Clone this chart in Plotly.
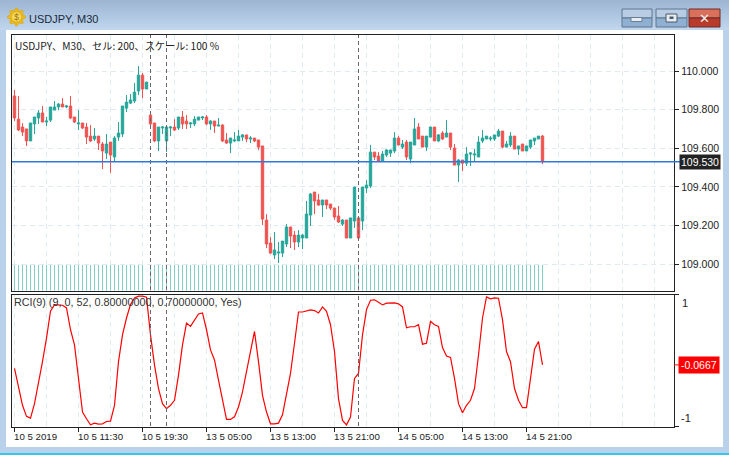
import math
import plotly.graph_objects as go

opens = [109.871,109.751,109.710,109.700,109.638,109.726,109.757,109.783,109.736,109.746,109.798,109.814,109.829,109.814,109.819,109.762,109.726,109.731,109.710,109.663,
109.648,109.663,109.622,109.575,109.632,109.555,109.658,109.674,109.808,109.834,109.845,109.897,109.979,109.907,109.772,109.731,109.638,109.705,109.638,109.705,
109.710,109.705,109.762,109.741,109.726,109.726,109.746,109.757,109.762,109.726,109.741,109.715,109.720,109.643,109.627,109.638,109.638,109.658,109.669,109.648,
109.653,109.643,109.612,109.228,109.109,109.047,109.057,109.057,109.104,109.192,109.150,109.114,109.135,109.135,109.254,109.373,109.332,109.306,109.332,109.311,
109.290,109.249,109.207,109.228,109.135,109.223,109.239,109.223,109.394,109.404,109.580,109.560,109.534,109.565,109.575,109.586,109.653,109.606,109.632,109.544,
109.617,109.710,109.663,109.606,109.658,109.710,109.638,109.679,109.658,109.679,109.601,109.513,109.539,109.523,109.570,109.565,109.555,109.638,109.648,109.648,
109.648,109.663,109.689,109.606,109.617,109.663,109.596,109.622,109.586,109.606,109.638,109.648,109.663]
highs = [109.902,109.871,109.731,109.700,109.731,109.762,109.798,109.819,109.762,109.814,109.845,109.834,109.860,109.824,109.871,109.762,109.798,109.731,109.731,109.720,
109.705,109.663,109.632,109.674,109.632,109.663,109.736,109.819,109.876,109.881,109.938,110.026,109.990,109.943,109.783,109.731,109.710,109.715,109.710,109.715,
109.751,109.762,109.793,109.772,109.736,109.767,109.762,109.767,109.772,109.746,109.741,109.757,109.726,109.679,109.653,109.684,109.695,109.674,109.669,109.663,
109.653,109.643,109.612,109.259,109.140,109.166,109.114,109.119,109.207,109.192,109.171,109.176,109.156,109.327,109.368,109.373,109.363,109.332,109.332,109.311,
109.290,109.301,109.233,109.228,109.239,109.399,109.239,109.399,109.435,109.617,109.580,109.580,109.586,109.596,109.591,109.684,109.663,109.643,109.643,109.632,
109.757,109.731,109.663,109.663,109.710,109.710,109.674,109.689,109.746,109.679,109.622,109.544,109.539,109.606,109.580,109.596,109.663,109.695,109.663,109.663,
109.669,109.700,109.689,109.638,109.684,109.663,109.612,109.622,109.612,109.643,109.653,109.663,109.669]
lows = [109.741,109.689,109.663,109.612,109.638,109.674,109.726,109.736,109.715,109.736,109.798,109.798,109.814,109.808,109.751,109.731,109.695,109.700,109.622,109.632,
109.638,109.591,109.492,109.544,109.472,109.534,109.638,109.658,109.788,109.829,109.834,109.876,109.860,109.907,109.705,109.632,109.586,109.674,109.580,109.663,
109.689,109.695,109.700,109.700,109.705,109.715,109.746,109.746,109.720,109.695,109.679,109.715,109.632,109.622,109.575,109.632,109.638,109.638,109.632,109.627,
109.632,109.591,109.202,109.083,109.052,109.026,109.005,109.036,109.088,109.083,109.073,109.088,109.078,109.135,109.197,109.259,109.301,109.244,109.285,109.280,
109.228,109.213,109.197,109.135,109.135,109.187,109.135,109.176,109.368,109.394,109.539,109.534,109.534,109.555,109.555,109.575,109.617,109.596,109.539,109.523,
109.617,109.648,109.606,109.586,109.658,109.638,109.632,109.643,109.658,109.591,109.513,109.425,109.482,109.508,109.508,109.534,109.555,109.627,109.648,109.638,
109.638,109.658,109.601,109.606,109.606,109.596,109.565,109.586,109.586,109.596,109.617,109.648,109.518]
closes = [109.757,109.695,109.684,109.638,109.731,109.762,109.783,109.736,109.741,109.814,109.814,109.829,109.814,109.819,109.757,109.736,109.731,109.705,109.658,109.638,
109.663,109.627,109.586,109.622,109.565,109.653,109.679,109.819,109.839,109.850,109.891,109.979,109.907,109.943,109.726,109.638,109.710,109.710,109.710,109.710,
109.695,109.762,109.726,109.726,109.731,109.751,109.762,109.762,109.726,109.741,109.715,109.720,109.638,109.627,109.653,109.643,109.663,109.669,109.648,109.653,
109.638,109.606,109.233,109.104,109.057,109.073,109.062,109.119,109.192,109.145,109.114,109.150,109.150,109.259,109.363,109.327,109.306,109.332,109.306,109.290,
109.244,109.218,109.228,109.135,109.239,109.399,109.135,109.399,109.409,109.580,109.555,109.534,109.570,109.591,109.591,109.653,109.617,109.622,109.555,109.632,
109.700,109.648,109.606,109.663,109.710,109.638,109.669,109.648,109.679,109.606,109.513,109.539,109.523,109.570,109.575,109.570,109.632,109.653,109.663,109.653,
109.669,109.689,109.606,109.622,109.663,109.596,109.612,109.586,109.612,109.643,109.653,109.663,109.530]
volumes = [1,1,1,1,1,1,1,1,1,1,1,1,1,1,1,1,1,1,1,1,1,1,1,1,1,1,1,1,1,1,1,1,1,None,1,1,1,1,1,1,
1,1,1,1,1,1,1,1,1,1,1,1,1,1,1,1,1,1,1,1,1,1,1,1,1,1,1,1,1,1,1,1,1,1,1,1,1,1,1,1,
1,1,1,1,1,1,1,1,1,1,1,1,1,1,1,1,1,1,1,1,1,1,1,1,1,1,1,1,1,1,1,1,1,1,1,1,1,1,1,1,
1,1,1,1,1,1,1,1,1,1,1,1,1]
rci = [-0.120,-0.399,-0.679,-0.847,-0.873,-0.654,-0.349,-0.018,0.338,0.746,0.847,0.847,0.837,0.796,0.466,0.237,-0.323,-0.781,-0.883,-0.975,
-0.949,-0.964,-0.959,-0.924,-0.919,-0.679,-0.018,0.389,0.644,0.847,0.949,0.975,0.975,0.959,0.389,-0.069,-0.425,-0.654,-0.730,-0.679,
-0.603,-0.221,0.237,0.567,0.517,0.618,0.705,0.720,0.466,0.160,0.008,-0.298,-0.578,-0.893,-0.893,-0.852,-0.705,-0.476,-0.170,0.135,
0.440,-0.018,-0.527,-0.781,-0.959,-0.959,-0.949,-0.822,-0.527,-0.196,0.262,0.735,0.735,0.756,0.766,0.756,0.720,0.812,0.746,0.542,
0.135,-0.578,-0.908,-0.975,-0.858,-0.272,-0.196,0.389,0.771,0.913,0.919,0.883,0.842,0.868,0.873,0.873,0.858,0.812,0.496,0.511,
0.511,0.542,0.247,0.262,0.593,0.542,0.517,0.196,0.069,0.048,-0.272,-0.654,-0.791,-0.679,-0.603,-0.425,0.084,0.644,0.964,0.934,
0.949,0.944,0.618,0.135,-0.018,-0.425,-0.603,-0.715,-0.715,-0.272,0.170,0.288,-0.0667]
time_ticks = [0,16,32,48,64,80,96,112,128]
time_labels = ["10 5 2019","10 5 11:30","10 5 19:30","13 5 05:00","13 5 13:00","13 5 21:00","14 5 05:00","14 5 13:00","14 5 21:00"]
minor_grid = [8,24,40,56,72,88,104,120,136,144,152,160]
price_ticks = [109.0,109.2,109.4,109.6,109.8,110.0]
price_labels = ["109.000","109.200","109.400","109.600","109.800","110.000"]
separators = [34,38,86]
bid = 109.530
rci_now = -0.0667

W, H = 729, 456
TEAL, RED = "#26a69a", "#ef5350"
GRID = "#dfeaf1"
FONT = "Liberation Sans"
bars = list(range(len(closes)))

def py(v):
    return 1 - v / H
def px(v):
    return v / W

shapes = []
def rect(x0, y0, x1, y1, fill, line=None, lw=1, layer="below"):
    shapes.append(dict(type="rect", xref="paper", yref="paper", x0=px(x0), x1=px(x1), y0=py(y0), y1=py(y1),
                       fillcolor=fill, line=dict(color=line or fill, width=lw if line else 0), layer=layer))

# window frame
rect(0, 0, 729, 456, "#b9d1ea")
top, bot = (158, 182, 212), (192, 214, 238)
for k in range(15):
    c = tuple(int(top[j] + (bot[j] - top[j]) * k / 14) for j in range(3))
    rect(0, k * 2, 729, k * 2 + 2, "rgb(%d,%d,%d)" % c)
rect(6, 30, 723, 447, "#ffffff")
rect(0, 453, 729, 455, "#35c8e6")
rect(0, 455, 729, 456, "#ffffff")
# window buttons
def button(x0, x1, a, b, line):
    rect(x0, 9, x1, 18, a, line)
    rect(x0, 18, x1, 27, b, line)
button(622, 652, "#b8cde4", "#8fb0d2", "#5f7690")
button(656, 687, "#b8cde4", "#8fb0d2", "#5f7690")
button(689, 720, "#d9705c", "#b83a2a", "#6e2a28")
rect(631, 17.5, 642, 21.5, "#e8edf2", "#6a7d90")
rect(666, 14, 677, 22, "#e8edf2", "#4a5a6a", 1)
rect(669.5, 16.5, 673.5, 19, "#4a5a6a")
# icon: gold gear drawn as a path
teeth = []
for n in range(32):
    a = 2 * math.pi * (n - 0.5) / 32
    r = 9.0 if n % 4 in (0, 1) else 6.8
    teeth.append((16.5 + r * math.cos(a), 17 + r * math.sin(a)))
gear = "M " + " L ".join("%.5f,%.5f" % (px(a), py(b)) for a, b in teeth) + " Z"
shapes.append(dict(type="path", xref="paper", yref="paper", path=gear, fillcolor="#eab818",
                   line=dict(color="#d8a010", width=0.5), layer="below"))
shapes.append(dict(type="circle", xref="paper", yref="paper", x0=px(11.5), x1=px(21.5), y0=py(12), y1=py(22),
                   fillcolor="#f6dc60", line=dict(color="#d8a010", width=0.5), layer="below"))

# separators, in both panels
for s in separators:
    shapes.append(dict(type="line", xref="x", yref="paper", x0=s, x1=s, y0=py(426), y1=py(294),
                       line=dict(color="#66666f", width=1, dash="4px,3px"), layer="above"))
    shapes.append(dict(type="line", xref="x", yref="paper", x0=s, x1=s, y0=py(290), y1=py(35),
                       line=dict(color="#66666f", width=1, dash="4px,3px"), layer="above"))
# bid line
shapes.append(dict(type="line", xref="paper", yref="y", x0=px(12), x1=px(680), y0=bid, y1=bid,
                   line=dict(color="#2f78e4", width=1.4), layer="above"))
shapes.append(dict(type="line", xref="paper", yref="y2", x0=px(674), x1=px(680), y0=rci_now, y1=rci_now,
                   line=dict(color="#ff0000", width=1), layer="above"))

fig = go.Figure()
fig.add_trace(go.Bar(x=bars, y=volumes, xaxis="x", yaxis="y3", width=0.25,
                     marker=dict(color="#7fd0c8", line=dict(width=0)), showlegend=False))
fig.add_trace(go.Candlestick(x=bars, open=opens, high=highs, low=lows, close=closes, xaxis="x", yaxis="y",
                             whiskerwidth=0, showlegend=False,
                             increasing=dict(line=dict(color=TEAL, width=1), fillcolor=TEAL),
                             decreasing=dict(line=dict(color=RED, width=1), fillcolor=RED)))
fig.add_trace(go.Scatter(x=bars, y=rci, mode="lines", xaxis="x2", yaxis="y2",
                         line=dict(color="#ff0000", width=1.2), showlegend=False))

def note(text, x, y, size=11, color="#222222", anchor="left", family=FONT, **kw):
    return dict(text=text, xref="paper", yref="paper", x=px(x), y=py(y), xanchor=anchor, yanchor="middle",
                showarrow=False, font=dict(family=family, size=size, color=color), **kw)

ann = [
    note("$", 16.5, 17, size=9, color="#a07010", anchor="center"),
    note("USDJPY, M30", 27, 18.5, size=11, color="#1a2a3a"),
    note("✕", 704.5, 18, size=13, color="#f4f0ec", anchor="center", family="DejaVu Sans"),
    note("USDJPY、M30、セル: 200、スケール: 100 %", 13, 45, size=10.2, color="#222222", family="Noto Sans CJK JP"),
    note("RCI(9) (9, 0, 52, 0.80000000, 0.70000000, Yes)", 12, 302, size=10.8, color="#333333"),
    note("1", 680, 303, size=11),
    note("-1", 679, 418, size=11),
    note("109.530", 679, 162, size=10.5, color="#ffffff", bgcolor="#222222", borderpad=1),
    note("-0.0667", 678, 364.5, size=10.5, color="#ffffff", bgcolor="#ff0000", borderpad=2),
]
for t, l in zip(time_ticks, time_labels):
    ann.append(dict(text=l, xref="x2", yref="paper", x=t, y=py(436), xanchor="left", yanchor="middle",
                    xshift=-3, showarrow=False, font=dict(family=FONT, size=9.7, color="#222222")))

xbase = dict(range=[-0.625, 164.875], showline=True, linecolor="#222222", linewidth=1.2, mirror=True,
             tickmode="array", tickvals=time_ticks, ticktext=[""] * len(time_ticks),
             showgrid=True, gridcolor=GRID, griddash="5px,4px", gridwidth=1, zeroline=False,
             rangeslider=dict(visible=False), domain=[px(12), px(674)],
             minor=dict(tickmode="array", tickvals=minor_grid, showgrid=True, gridcolor=GRID,
                        griddash="5px,4px", gridwidth=1, ticks=""))
fig.update_layout(
    width=W, height=H, autosize=False, margin=dict(l=0, r=0, t=0, b=0),
    paper_bgcolor="#ffffff", plot_bgcolor="rgba(0,0,0,0)", bargap=0, boxgap=0.15,
    shapes=shapes, annotations=ann, showlegend=False,
    xaxis=dict(**xbase, anchor="y", ticks=""),
    xaxis2=dict(**xbase, anchor="y2", ticks="outside", ticklen=4, tickcolor="#222222", matches="x"),
    yaxis=dict(domain=[py(290.5), py(35)], range=[108.863, 110.187], side="right", anchor="x",
               tickmode="array", tickvals=price_ticks, ticktext=price_labels,
               ticks="outside", ticklen=4, tickcolor="#222222",
               tickfont=dict(family=FONT, size=10.5, color="#222222"),
               showgrid=True, gridcolor=GRID, griddash="5px,4px", zeroline=False,
               showline=True, linecolor="#222222", linewidth=1.2, mirror=True),
    yaxis2=dict(domain=[py(426.5), py(294.5)], range=[-1, 1], side="right", anchor="x2",
                tickmode="array", tickvals=[-1, 1], ticktext=["", ""],
                ticks="outside", ticklen=4, tickcolor="#222222", showgrid=False, zeroline=False,
                showline=True, linecolor="#222222", linewidth=1.2, mirror=True),
    yaxis3=dict(overlaying="y", range=[0, 10.2], visible=False, fixedrange=True),
)
fig.write_html("out.html", config=dict(displayModeBar=False),
               post_script="document.body.style.margin='0';document.body.style.overflow='hidden';")
